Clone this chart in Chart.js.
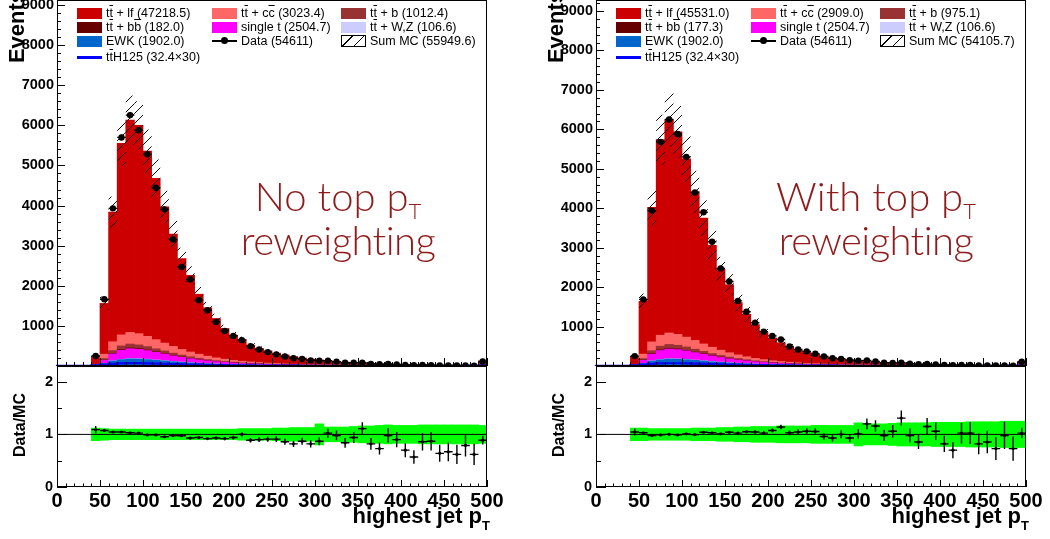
<!DOCTYPE html>
<html>
<head>
<meta charset="utf-8">
<title>highest jet pT</title>
<script src="https://cdn.jsdelivr.net/npm/chart.js@4.4.1/dist/chart.umd.min.js"></script>
<style>
  body { margin: 0; background: #fff; font-family: "Liberation Sans", Arial, Helvetica, sans-serif; }
  #page { position: relative; width: 1050px; height: 539px; overflow: hidden; background: #fff; }
  canvas { position: absolute; }
  .txt { position: absolute; white-space: nowrap; color: #000; }
  .ov { text-decoration: overline; }
  .leg { font-size: 12.5px; line-height: 14px; height: 14px; }
  .sw { position: absolute; }
  .axt { font-weight: bold; }
  .rot { transform: translate(-50%, -50%) rotate(-90deg); }
  .note { position: absolute; font-family: Lato, "Open Sans", sans-serif; font-weight: 300; font-size: 40px;
          color: #8f1b1b; width: 300px; text-align: center; line-height: 40px; white-space: nowrap; }
  .note span { font-size: 22px; position: relative; top: 8px; }
  .tight { letter-spacing: -0.6px; }
</style>
</head>
<body>
<div id="page">
  <canvas id="mainL" width="520" height="392" style="left:0;top:-12px"></canvas>
  <canvas id="ratioL" width="520" height="189" style="left:0;top:350px"></canvas>
  <canvas id="mainR" width="520" height="392" style="left:539px;top:-12px"></canvas>
  <canvas id="ratioR" width="520" height="189" style="left:539px;top:350px"></canvas>

  <div class="txt axt rot" style="left:17px;top:27px;font-size:22px">Events</div>
  <div class="txt axt rot" style="left:556px;top:27px;font-size:22px">Events</div>
  <div class="txt axt rot" style="left:20px;top:425px;font-size:16px">Data/MC</div>
  <div class="txt axt rot" style="left:559px;top:425px;font-size:16px">Data/MC</div>
  <div class="txt axt" style="right:560px;top:505px;font-size:22px;line-height:22px">highest jet p<span style="font-size:13px;position:relative;top:7px">T</span></div>
  <div class="txt axt" style="right:21px;top:505px;font-size:22px;line-height:22px">highest jet p<span style="font-size:13px;position:relative;top:7px">T</span></div>

  <div class="note" style="left:188px;top:176px">No top p<span>T</span></div>
  <div class="note tight" style="left:188px;top:220px">reweighting</div>
  <div class="note" style="left:726px;top:176px">With top p<span>T</span></div>
  <div class="note tight" style="left:726px;top:220px">reweighting</div>
</div>
<script>
// bins of 10 GeV, low edges
const binLow = [40,50,60,70,80,90,100,110,120,130,140,150,160,170,180,190,200,210,220,230,240,250,260,270,280,290,300,310,320,330,340,350,360,370,380,390,400,410,420,430,440,450,460,470,480,490]

// tick values
const xTicks = [0,50,100,150,200,250,300,350,400,450,500]
const yTicksMain = [1000,2000,3000,4000,5000,6000,7000,8000,9000]
const yTicksRatio = [0,1,2]

// backgrounds common to both plots
const ewk = [9,62,125,160,178,172,160,143,126,108, 92,78,65,55,46,39,32,27,23,20, 17,15,13,11,10,9,8,7,6,5, 5,4,4,3,3,3,3,2,2,2, 2,2,2,1,1,12]
const ttWZ = [0,2,5,7,8,8,8,7,6,5, 5,4,4,3,3,3,2,2,2,2, 2,1,1,1,1,1,1,1,1,1, 1,1,0,0,0,0,0,0,0,0, 0,0,0,0,0,1]
const singleTop = [12,80,170,225,245,235,215,190,165,140, 118,100,84,70,58,49,41,35,29,25, 21,18,15,13,11,10,9,8,7,6, 5,5,4,4,3,3,3,3,2,2, 2,2,2,2,1,15]
const ttH = [3,15,35,55,65,70,70,66,60,54, 48,42,37,32,28,24,21,18,16,14, 12,10,9,8,7,6,5,5,4,4, 3,3,3,2,2,2,2,2,2,1, 1,1,1,1,1,12]

// no top pT reweighting
const ttbbL = [1,6,13,17,18,17,15,13,11,10, 8,7,6,5,4,3,3,2,2,2, 1,1,1,1,1,1,1,0,0,0, 0,0,0,0,0,0,0,0,0,0, 0,0,0,0,0,1]
const ttbL = [5,35,72,92,98,94,86,76,66,57, 48,40,34,28,23,19,16,14,12,10, 8,7,6,5,4,4,3,3,3,2, 2,2,2,1,1,1,1,1,1,1, 1,1,1,1,1,6]
const ttccL = [15,110,220,275,290,280,255,228,198,170, 143,120,100,83,69,57,47,39,33,27, 23,19,16,14,12,10,9,8,7,6, 5,4,4,3,3,3,2,2,2,2, 2,1,1,1,1,15]
const ttlfL = [188,1265,3235,4774,5293,5194,4621,4023,3398,2800, 2266,1911,1497,1206,982,765,629,541,419,354, 308,259,223,190,161,135,119,103,88,77, 67,58,51,46,40,34,30,27,24,20, 17,15,13,12,11,75]
const dataL = [250,1665,3930,5700,6255,5880,5280,4445,3905,3155, 2470,2155,1640,1390,1100,875,750,645,495,410, 346,291,237,193,174,139,131,133,110,81, 80,82,53,42,49,40,27,20,27,23, 15,14,12,13,9,111]
const ratioL = [1.09,1.075,1.045,1.045,1.03,1.025,0.99,0.99,0.955,0.98, 0.975,0.93,0.94,0.92,0.93,0.92,0.94,1.0,0.89,0.90, 0.91,0.91,0.86,0.82,0.87,0.82,0.87,1.025,0.98,0.84, 0.94,1.11,0.82,0.73,0.98,0.90,0.70,0.57,0.86,0.87, 0.64,0.67,0.62,0.79,0.62,0.89]
const mcErrL = [0.12,0.11,0.1,0.1,0.1,0.1,0.1,0.1,0.1,0.1, 0.1,0.1,0.1,0.1,0.1,0.1,0.1,0.11,0.11,0.11, 0.11,0.12,0.12,0.13,0.13,0.13,0.2,0.14,0.14,0.14, 0.15,0.16,0.16,0.17,0.18,0.17,0.17,0.17,0.18,0.18, 0.18,0.18,0.18,0.18,0.18,0.17]

// with top pT reweighting
const ttbbR = [1,6,13,17,18,17,15,13,11,9, 8,7,6,5,4,3,3,2,2,2, 1,1,1,1,1,1,1,1,1,1, 0,0,0,0,0,0,0,0,0,0, 0,0,0,0,0,1]
const ttbR = [5,36,73,93,98,93,84,73,63,54, 45,37,31,26,21,17,14,12,10,9, 7,6,5,4,4,3,3,2,2,2, 2,1,1,1,1,1,1,1,1,1, 1,1,1,1,1,5]
const ttccR = [16,115,225,278,290,278,250,220,188,160, 133,110,91,75,62,51,42,35,29,24, 20,17,14,12,10,9,8,7,6,5, 4,4,3,3,3,2,2,2,2,1, 1,1,1,1,1,12]
const ttlfR = [197,1339,3409,4960,5413,5137,4518,3774,3191,2584, 2049,1724,1329,1076,856,688,576,477,385,318, 282,237,201,168,143,122,105,89,77,66, 58,50,45,39,34,29,25,22,20,18, 15,12,10,10,9,59]
const dataR = [251,1689,3940,5683,6250,5881,5303,4398,3900,3152, 2475,2142,1650,1376,1097,871,763,673,494,418, 371,311,240,195,180,144,136,138,116,84, 80,85,56,43,51,40,28,21,28,25, 17,15,12,15,9,108]
const ratioR = [1.045,1.03,0.98,0.99,1.0,0.99,1.01,0.995,1.04,1.03, 1.01,1.04,1.025,1.05,1.045,1.025,1.075,1.14,1.03,1.045, 1.06,1.055,0.96,0.93,1.0,0.93,1.01,1.2,1.16,0.98, 1.06,1.31,0.98,0.855,1.15,1.06,0.82,0.70,1.025,1.025, 0.82,0.855,0.73,0.98,0.73,1.025]
const mcErrR = [0.12,0.12,0.11,0.11,0.11,0.11,0.11,0.12,0.12,0.12, 0.13,0.13,0.14,0.14,0.15,0.15,0.15,0.16,0.16,0.16, 0.16,0.17,0.17,0.17,0.17,0.17,0.22,0.2,0.2,0.2, 0.21,0.22,0.22,0.22,0.22,0.23,0.23,0.23,0.23,0.24, 0.24,0.24,0.24,0.25,0.25,0.25]

// legend texts
const legendL = ['t<span class="ov">t</span> + lf (47218.5)', 't<span class="ov">t</span> + c<span class="ov">c</span> (3023.4)', 't<span class="ov">t</span> + b (1012.4)',
  't<span class="ov">t</span> + b<span class="ov">b</span> (182.0)', 'single t (2504.7)', 't<span class="ov">t</span> + W,Z (106.6)',
  'EWK (1902.0)', 'Data (54611)', 'Sum MC (55949.6)', 't<span class="ov">t</span>H125 (32.4×30)']
const legendR = ['t<span class="ov">t</span> + lf (45531.0)', 't<span class="ov">t</span> + c<span class="ov">c</span> (2909.0)', 't<span class="ov">t</span> + b (975.1)',
  't<span class="ov">t</span> + b<span class="ov">b</span> (177.3)', 'single t (2504.7)', 't<span class="ov">t</span> + W,Z (106.6)',
  'EWK (1902.0)', 'Data (54611)', 'Sum MC (54105.7)', 't<span class="ov">t</span>H125 (32.4×30)']

const col = {
  lf: '#cc0000', cc: '#ff6666', b: '#993333', bb: '#660000',
  st: '#ff00ff', wz: '#ccccff', ewk: '#0066cc', tth: '#0000ff', band: '#00ff00'
}

Chart.defaults.font.family = "'Liberation Sans', Arial, Helvetica, sans-serif"
Chart.defaults.color = '#000'

// ROOT style frame with inward ticks
const rootFrame = {
  id: 'rootFrame',
  afterDatasetsDraw(chart, args, o) {
    const { ctx, chartArea: a, scales: { x, y } } = chart
    ctx.save()
    ctx.strokeStyle = '#000'
    ctx.lineWidth = 1
    ctx.strokeRect(a.left + 0.5, a.top + 0.5, a.right - a.left - 1, a.bottom - a.top - 1)
    ctx.beginPath()
    const nx = Math.round((x.max - x.min) / o.xMinor)
    for (let i = 0; i <= nx; i++) {
      const px = Math.round(x.getPixelForValue(x.min + i * o.xMinor)) + 0.5
      const len = i % o.xEvery === 0 ? o.xLen[0] : o.xLen[1]
      ctx.moveTo(px, a.bottom)
      ctx.lineTo(px, a.bottom - len)
    }
    const ny = Math.floor((y.max - y.min) / o.yMinor + 1e-6)
    for (let j = 0; j <= ny; j++) {
      const py = Math.round(y.getPixelForValue(y.min + j * o.yMinor)) + 0.5
      const len = j % o.yEvery === 0 ? o.yLen[0] : o.yLen[1]
      ctx.moveTo(a.left, py)
      ctx.lineTo(a.left + len, py)
    }
    ctx.stroke()
    ctx.restore()
  }
}

function hatchPattern() {
  const c = document.createElement('canvas')
  c.width = 10
  c.height = 10
  const g = c.getContext('2d')
  g.strokeStyle = '#111'
  g.lineWidth = 1
  g.beginPath()
  g.moveTo(0, 10); g.lineTo(10, 0)
  g.moveTo(-2, 2); g.lineTo(2, -2)
  g.moveTo(8, 12); g.lineTo(12, 8)
  g.stroke()
  return g.createPattern(c, 'repeat')
}
const hatch = hatchPattern()

const barBase = { type: 'bar', grouped: false, barPercentage: 1, categoryPercentage: 1, borderWidth: 0 }

function stackBars(comps) {
  let base = binLow.map(() => 0)
  const sets = comps.map(([vals, color]) => {
    const d = binLow.map((b, i) => {
      const lo = base[i], hi = lo + vals[i]
      return { x: b + 5, y: hi > lo ? [lo, hi] : null }
    })
    base = base.map((v, i) => v + vals[i])
    return { ...barBase, data: d, backgroundColor: color, inflateAmount: 0.35, order: 10 }
  })
  return { sets, total: base }
}

function errSegs(ys, errs) {
  const pts = []
  binLow.forEach((b, i) => {
    const x = b + 5
    pts.push({ x, y: ys[i] - errs[i] }, { x, y: ys[i] + errs[i] }, { x, y: null })
    pts.push({ x: b, y: ys[i] }, { x: b + 10, y: ys[i] }, { x, y: null })
  })
  return pts
}

const fixTicks = vals => s => { s.ticks = vals.map(v => ({ value: v })) }

function xAxis(labels) {
  return {
    type: 'linear', min: 0, max: 500, offset: false,
    grid: { display: false, drawTicks: false, offset: false }, border: { display: false },
    afterBuildTicks: fixTicks(xTicks),
    ticks: { display: labels, autoSkip: false, maxRotation: 0, padding: 2,
      font: { size: 20, weight: 'bold' }, callback: v => String(v) },
    afterFit: s => { s.height = labels ? 52 : 0 }
  }
}

function yAxis(max, tickVals, size, pad) {
  return {
    type: 'linear', min: 0, max: max,
    grid: { display: false, drawTicks: false }, border: { display: false },
    afterBuildTicks: fixTicks(tickVals),
    ticks: { padding: pad, font: { size: size, weight: 'bold' }, callback: v => String(v) },
    afterFit: s => { s.width = 57 }
  }
}

function mainChart(id, comps, data, mcErr, ymax) {
  const { sets, total } = stackBars(comps)
  const pts = binLow.map((b, i) => ({ x: b + 5, y: data[i] }))
  const tthLine = [{ x: 0, y: 0 }, ...binLow.map((b, i) => ({ x: b, y: ttH[i] })), { x: 500, y: ttH[ttH.length - 1] }]
  return new Chart(document.getElementById(id), {
    type: 'bar',
    data: {
      datasets: [
        { type: 'line', data: pts, showLine: false, pointRadius: 3.2, pointBackgroundColor: '#000', pointBorderWidth: 0, order: 0 },
        { type: 'line', data: errSegs(data, data.map(Math.sqrt)), borderColor: '#000', borderWidth: 1.4, pointRadius: 0, spanGaps: false, order: 1 },
        { type: 'line', data: tthLine, stepped: 'after', borderColor: col.tth, borderWidth: 2.2, pointRadius: 0, clip: 3, order: 2 },
        { ...barBase, data: binLow.map((b, i) => ({ x: b + 5, y: [total[i] * (1 - mcErr[i]), total[i] * (1 + mcErr[i])] })),
          backgroundColor: hatch, inflateAmount: 0, order: 3 },
        ...sets
      ]
    },
    options: {
      responsive: false, animation: false, events: [],
      layout: { padding: { left: 0, right: 33, top: 12, bottom: 14 } },
      plugins: { legend: { display: false }, tooltip: { enabled: false },
        rootFrame: { xMinor: 10, xEvery: 5, xLen: [8, 4], yMinor: 200, yEvery: 5, yLen: [8, 4] } },
      scales: { x: xAxis(false), y: yAxis(ymax, yTicksMain, 14.5, 3) }
    },
    plugins: [rootFrame]
  })
}

function ratioChart(id, ratio, data, total, mcErr) {
  const pts = binLow.map((b, i) => ({ x: b + 5, y: ratio[i] }))
  const errs = data.map((n, i) => Math.sqrt(n) / total[i])
  return new Chart(document.getElementById(id), {
    type: 'bar',
    data: {
      datasets: [
        { type: 'line', data: pts, showLine: false, pointRadius: 1.6, pointBackgroundColor: '#000', pointBorderWidth: 0, order: 0 },
        { type: 'line', data: errSegs(ratio, errs), borderColor: '#000', borderWidth: 1.4, pointRadius: 0, spanGaps: false, order: 1 },
        { type: 'line', data: [{ x: 0, y: 1 }, { x: 500, y: 1 }], borderColor: '#000', borderWidth: 1, pointRadius: 0, order: 2 },
        { ...barBase, data: binLow.map((b, i) => ({ x: b + 5, y: [1 - mcErr[i], 1 + mcErr[i]] })),
          backgroundColor: col.band, inflateAmount: 0.35, order: 3 }
      ]
    },
    options: {
      responsive: false, animation: false, events: [],
      layout: { padding: { left: 0, right: 33, top: 16, bottom: 0 } },
      plugins: { legend: { display: false }, tooltip: { enabled: false },
        rootFrame: { xMinor: 10, xEvery: 5, xLen: [7, 3.5], yMinor: 0.5, yEvery: 2, yLen: [10, 5] } },
      scales: { x: xAxis(true), y: yAxis(2.3, yTicksRatio, 14.5, 4) }
    },
    plugins: [rootFrame]
  })
}

const compsL = [[ewk, col.ewk], [ttWZ, col.wz], [singleTop, col.st], [ttbbL, col.bb], [ttbL, col.b], [ttccL, col.cc], [ttlfL, col.lf]]
const compsR = [[ewk, col.ewk], [ttWZ, col.wz], [singleTop, col.st], [ttbbR, col.bb], [ttbR, col.b], [ttccR, col.cc], [ttlfR, col.lf]]

mainChart('mainL', compsL, dataL, mcErrL, 9125)
mainChart('mainR', compsR, dataR, mcErrR, 9280)
ratioChart('ratioL', ratioL, dataL, stackBars(compsL).total, mcErrL)
ratioChart('ratioR', ratioR, dataR, stackBars(compsR).total, mcErrR)

// ROOT-like legend, 3 columns
const legendKinds = [col.lf, col.cc, col.b, col.bb, col.st, col.wz, col.ewk, 'data', 'hatch', 'line']
function addLegend(ox, labels) {
  const page = document.getElementById('page')
  const cols = [77, 212, 341], rows = [13, 27, 41, 57]
  legendKinds.forEach((k, i) => {
    const sx = ox + cols[i % 3], cy = rows[Math.floor(i / 3)]
    const sw = document.createElement('div')
    sw.className = 'sw'
    if (k === 'data') {
      sw.style.cssText = `left:${sx}px;top:${cy - 1}px;width:25px;height:1.5px;background:#000`
      const dot = document.createElement('div')
      dot.className = 'sw'
      dot.style.cssText = `left:${sx + 9}px;top:${cy - 4}px;width:7px;height:7px;border-radius:50%;background:#000`
      page.appendChild(dot)
    } else if (k === 'hatch') {
      sw.style.cssText = `left:${sx}px;top:${cy - 6}px;width:23px;height:10px;border:1px solid #000;` +
        'background:repeating-linear-gradient(135deg,#fff 0 7px,#000 7px 8px)'
    } else if (k === 'line') {
      sw.style.cssText = `left:${sx}px;top:${cy - 1}px;width:25px;height:2.5px;background:${col.tth}`
    } else {
      sw.style.cssText = `left:${sx}px;top:${cy - 5}px;width:25px;height:11px;background:${k}`
    }
    page.appendChild(sw)
    const t = document.createElement('div')
    t.className = 'txt leg'
    t.style.left = (sx + 29) + 'px'
    t.style.top = (cy - 7) + 'px'
    t.innerHTML = labels[i]
    page.appendChild(t)
  })
}
addLegend(0, legendL)
addLegend(539, legendR)
</script>
</body>
</html>
